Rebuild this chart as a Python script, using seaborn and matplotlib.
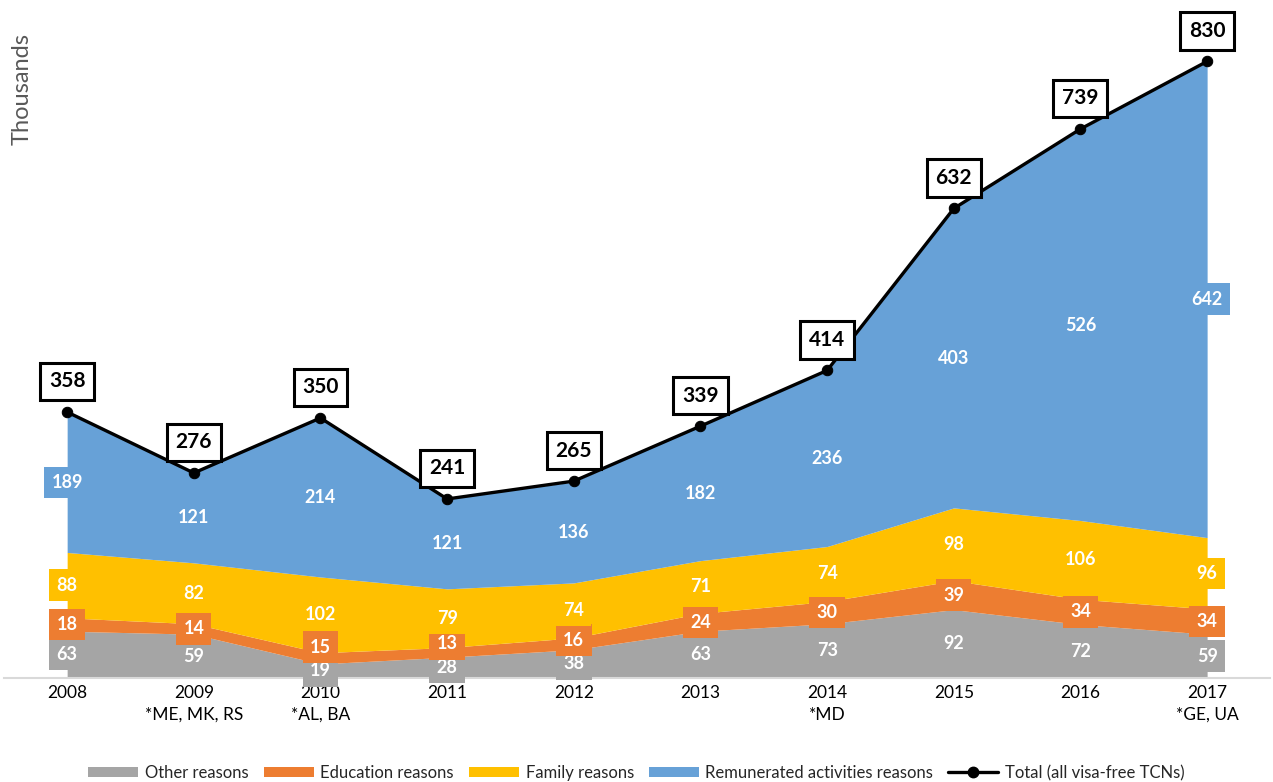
import matplotlib.pyplot as plt
import seaborn as sns
import pandas as pd
from matplotlib.patches import Patch
from matplotlib.lines import Line2D

# Values (thousands)
years = ['2008', '2009', '2010', '2011', '2012', '2013', '2014', '2015', '2016', '2017']
notes = ['', '*ME, MK, RS', '*AL, BA', '', '', '', '*MD', '', '', '*GE, UA']
other = [63, 59, 19, 28, 38, 63, 73, 92, 72, 59]
education = [18, 14, 15, 13, 16, 24, 30, 39, 34, 34]
family = [88, 82, 102, 79, 74, 71, 74, 98, 106, 96]
remunerated = [189, 121, 214, 121, 136, 182, 236, 403, 526, 642]
total = [358, 276, 350, 241, 265, 339, 414, 632, 739, 830]

series_names = ['Other reasons', 'Education reasons', 'Family reasons', 'Remunerated activities reasons']
colors = ['#A5A5A5', '#ED7D31', '#FFC000', '#67A1D7']


def make_chart(output_file):
    sns.set_theme(style='white')
    plt.rcParams['font.family'] = ['Lato', 'DejaVu Sans']

    fig = plt.figure(figsize=(12.73, 7.82), dpi=100)
    ax = fig.add_axes([0.003, 0.133, 0.995, 0.855])

    x = list(range(len(years)))
    stacks = [other, education, family, remunerated]
    ax.stackplot(x, *stacks, colors=colors, linewidth=0)

    df = pd.DataFrame({'x': x, 'total': total})
    sns.lineplot(data=df, x='x', y='total', ax=ax, color='black', linewidth=2.4,
                 marker='o', markersize=7.5, markeredgecolor='black')

    # labels in the middle of each band, nudged up when two would collide
    min_gap = 32
    bottom = [0] * len(years)
    last_pos = [None] * len(years)
    for vals, col in zip(stacks, colors):
        for i, v in enumerate(vals):
            pos = bottom[i] + v / 2
            if last_pos[i] is not None and pos - last_pos[i] < min_gap:
                pos = last_pos[i] + min_gap
            last_pos[i] = pos
            ax.text(i, pos, str(v), ha='center', va='center',
                    fontsize=13, fontweight='bold', color='white',
                    bbox=dict(boxstyle='square,pad=0.4', fc=col, ec='none'))
        bottom = [b + v for b, v in zip(bottom, vals)]

    # totals in black framed boxes
    for i, t in enumerate(total):
        ax.annotate(str(t), (i, t), xytext=(0, 22), textcoords='offset points',
                    ha='center', va='center', fontsize=15, fontweight='bold',
                    color='black',
                    bbox=dict(boxstyle='square,pad=0.42', fc='white', ec='black', lw=2.2))

    ax.set_xlim(-0.5, 9.5)
    ax.set_ylim(0, 900)
    ax.set_xticks(x)
    ax.set_xticklabels([y + ('\n' + n if n else '') for y, n in zip(years, notes)],
                       fontsize=12.5, color='black', linespacing=1.45)
    ax.tick_params(axis='x', length=0, pad=5)
    ax.set_yticks([])
    ax.set_xlabel('')
    ax.set_ylabel('')
    for side in ['top', 'right', 'left']:
        ax.spines[side].set_visible(False)
    ax.spines['bottom'].set_color('#D9D9D9')
    ax.spines['bottom'].set_linewidth(1.5)

    fig.text(0.017, 0.958, 'Thousands', rotation=90, ha='center', va='top',
             fontsize=17, color='#595959')

    handles = [Patch(facecolor=c, edgecolor='none') for c in colors]
    handles.append(Line2D([0], [0], color='black', lw=2.4, marker='o', markersize=7.5))
    fig.legend(handles, series_names + ['Total (all visa-free TCNs)'],
               loc='lower center', bbox_to_anchor=(0.5, -0.018), ncol=5,
               frameon=False, fontsize=12, handlelength=3.0, handleheight=0.6,
               columnspacing=0.9, handletextpad=0.4)

    fig.savefig(output_file, dpi=100)
    plt.close(fig)


if __name__ == '__main__':
    make_chart('out.png')
